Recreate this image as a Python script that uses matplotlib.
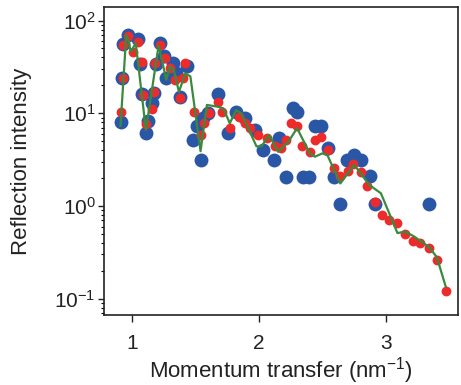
import matplotlib
matplotlib.use("Agg")
import matplotlib.pyplot as plt

plt.rcParams['font.family'] = ['Liberation Sans', 'DejaVu Sans']
plt.rcParams['mathtext.default'] = 'regular'

# experiment (blue)
exp_q = [0.91, 0.92, 0.93, 0.97, 1.05, 1.06, 1.08, 1.11, 1.13, 1.16, 1.17, 1.19,
         1.22, 1.25, 1.27, 1.32, 1.35, 1.38, 1.43, 1.48, 1.51, 1.54, 1.56, 1.60,
         1.68, 1.76, 1.82, 1.89, 1.97, 2.03, 2.12, 2.16, 2.21, 2.27, 2.30, 2.35,
         2.39, 2.44, 2.49, 2.54, 2.59, 2.64, 2.69, 2.75, 2.80, 2.87, 2.91, 3.34]
exp_i = [8.1, 24, 56, 70, 63, 34, 16, 6.1, 8.3, 12.8, 16.4, 34,
         57, 41, 24, 35, 27, 15, 32, 5.1, 7.2, 3.1, 9.0, 10,
         16, 6.2, 10.4, 8.8, 6.6, 4.0, 3.1, 5.4, 2.07, 11.3, 10.4, 2.07,
         2.07, 7.2, 7.2, 4.2, 2.07, 1.05, 3.1, 3.55, 3.1, 2.1, 1.05, 1.05]

# calculated (red)
calc_q = [0.91, 0.93, 0.93, 0.97, 1.01, 1.05, 1.08, 1.09, 1.11, 1.16, 1.17, 1.18,
          1.22, 1.26, 1.30, 1.34, 1.38, 1.40, 1.42, 1.49, 1.54, 1.57, 1.61, 1.68,
          1.71, 1.77, 1.84, 1.89, 1.93, 1.99, 2.06, 2.13, 2.17, 2.21, 2.25, 2.30,
          2.34, 2.40, 2.44, 2.49, 2.54, 2.59, 2.64, 2.70, 2.74, 2.80, 2.85, 2.91,
          2.97, 3.02, 3.09, 3.15, 3.21, 3.27, 3.34, 3.40, 3.47]
calc_i = [10.4, 24, 54, 68, 46, 59, 36, 15.7, 7.7, 11, 17, 35,
          54, 39, 31, 23, 14.5, 24, 35, 10.4, 5.8, 7.8, 10, 13.3,
          10.4, 6.9, 9.2, 7.8, 6.9, 5.8, 5.4, 4.4, 4.2, 5.2, 7.8, 7.2,
          4.4, 3.8, 5.2, 5.6, 4.0, 2.55, 2.1, 2.4, 2.84, 2.35, 1.64, 1.11,
          0.80, 0.71, 0.66, 0.50, 0.42, 0.40, 0.35, 0.26, 0.122]

# model curve (green)
fit_q = [0.91, 0.955, 0.975, 0.99, 1.03, 1.11, 1.21, 1.27, 1.30, 1.33, 1.37, 1.42,
         1.46, 1.54, 1.59, 1.67, 1.72, 1.77, 1.82, 1.86, 1.91, 1.98, 2.02, 2.08,
         2.15, 2.23, 2.30, 2.40, 2.44, 2.50, 2.54, 2.64, 2.75, 2.87, 2.96, 3.09,
         3.15, 3.22, 3.34, 3.40, 3.47]
fit_i = [7.3, 70, 59, 46, 57, 6.6, 54, 23, 32, 29, 17, 27,
         25, 3.9, 12.3, 11.8, 11.3, 7.8, 10.8, 10, 7.2, 4.4, 4.4, 5.8,
         3.85, 4.9, 6.9, 3.7, 3.4, 3.7, 3.5, 1.75, 2.77, 1.68, 1.37, 0.51,
         0.53, 0.47, 0.36, 0.28, 0.135]

fig = plt.figure(figsize=(4.61, 3.85), dpi=100)
ax = fig.add_axes([0.2256, 0.1818, 0.768, 0.80])

ax.scatter(exp_q, exp_i, s=100, color='#2a56a6', linewidths=0, zorder=2)
ax.scatter(calc_q, calc_i, s=50, color='#ee2b2b', linewidths=0, zorder=3)
ax.plot(fit_q, fit_i, color='#3a8a3e', lw=1.6, zorder=4)

ax.set_yscale('log')
ax.set_xlim(0.78, 3.567)
ax.set_ylim(0.0667, 140)
ax.set_xticks([1, 2, 3])
ax.set_xticklabels(['1', '2', '3'])
ax.tick_params(axis='x', which='major', direction='out', length=5, width=1,
               labelsize=15, colors='#222222', pad=9)
ax.tick_params(axis='y', which='major', direction='out', length=4, width=1,
               labelsize=15, colors='#222222', pad=2)
ax.tick_params(axis='y', which='minor', direction='out', length=2.5, width=0.8)
for sp in ax.spines.values():
    sp.set_linewidth(1.2)
    sp.set_color('#222222')

ax.set_xlabel('Momentum transfer (nm$^{-1}$)', fontsize=16, color='#222222')
ax.set_ylabel('Reflection intensity', fontsize=16, color='#222222')
ax.xaxis.label.set_va('center')
ax.yaxis.label.set_va('center')
ax.xaxis.set_label_coords(0.5, -0.18)
ax.yaxis.set_label_coords(-0.232, 0.5)

fig.savefig('out.png', dpi=100)
